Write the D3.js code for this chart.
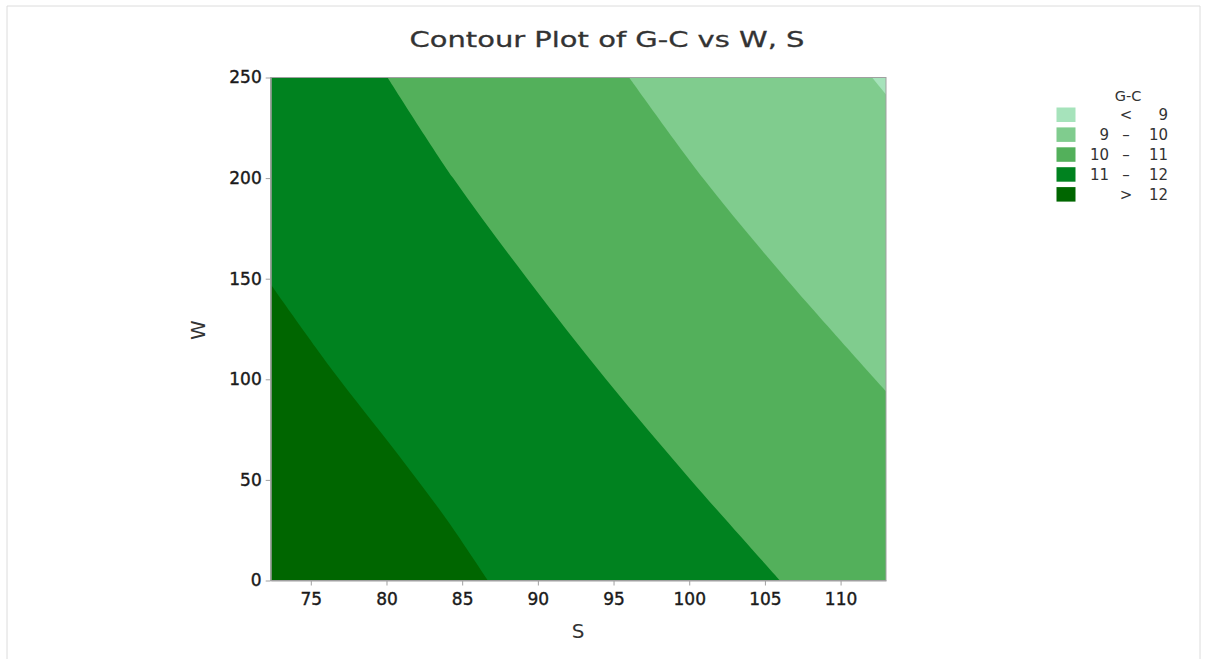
<!DOCTYPE html>
<html>
<head>
<meta charset="utf-8">
<script src="https://d3js.org/d3.v7.min.js"></script>
<style>
  body { margin: 0; background: #fff; }
  text { font-family: "DejaVu Sans", sans-serif; }
</style>
</head>
<body>
<svg width="1205" height="659"></svg>
<script>
// axis domains and ticks
const sDomain = [72.35, 113];
const wDomain = [0, 250];
const sTicks = [75, 80, 85, 90, 95, 100, 105, 110];
const wTicks = [0, 50, 100, 150, 200, 250];

// contour lines, as [S, W]
const c12 = [[72.35, 147.2], [76.4, 104.8], [80.7, 63.3], [84.0, 30.1], [86.7, 0]];
const c11 = [[80.07, 250], [84.4, 200], [89.3, 150], [94.5, 100], [100.1, 50], [106, 0]];
const c10 = [[96.03, 250], [100.9, 200], [106.4, 150], [113, 94]];
const c9 = [[112.08, 250], [113, 241.5]];

// legend
const legLow = ["", "9", "10", "11", ""];
const legSym = ["<", "\u2013", "\u2013", "\u2013", ">"];
const legHigh = ["9", "10", "11", "12", "12"];
const bandColors = ["#a6e3bb", "#80cc8e", "#53b05b", "#00821f", "#006600"];

const svg = d3.select("svg");

// light frame round the whole graph
svg.append("path")
  .attr("d", "M7,670V6H1200V670")
  .attr("fill", "none")
  .attr("stroke", "#dcdcdc");

const x = d3.scaleLinear().domain(sDomain).range([270.7, 886]);
const y = d3.scaleLinear().domain(wDomain).range([580.5, 77.5]);

const plot = svg.append("g");

// base band ( > 12 )
plot.append("rect")
  .attr("x", x(sDomain[0]))
  .attr("y", y(wDomain[1]))
  .attr("width", x(sDomain[1]) - x(sDomain[0]))
  .attr("height", y(wDomain[0]) - y(wDomain[1]))
  .attr("fill", bandColors[4]);

const line = d3.line()
  .x(d => x(d[0]))
  .y(d => y(d[1]))
  .curve(d3.curveCatmullRom);

// each band lies to the upper right of its contour
const bands = [
  { pts: c12, close: [[sDomain[1], wDomain[0]], [sDomain[1], wDomain[1]], [sDomain[0], wDomain[1]]], color: bandColors[3] },
  { pts: c11, close: [[sDomain[1], wDomain[0]], [sDomain[1], wDomain[1]]], color: bandColors[2] },
  { pts: c10, close: [[sDomain[1], wDomain[1]]], color: bandColors[1] },
  { pts: c9, close: [[sDomain[1], wDomain[1]]], color: bandColors[0] }
];

plot.selectAll("path.band")
  .data(bands)
  .enter()
  .append("path")
  .attr("class", "band")
  .attr("d", b => line(b.pts) + b.close.map(c => "L" + x(c[0]) + "," + y(c[1])).join("") + "Z")
  .attr("fill", b => b.color);

// plot frame
svg.append("rect")
  .attr("x", x(sDomain[0]))
  .attr("y", y(wDomain[1]))
  .attr("width", x(sDomain[1]) - x(sDomain[0]))
  .attr("height", y(wDomain[0]) - y(wDomain[1]))
  .attr("fill", "none")
  .attr("stroke", "#a0a0a0");

// axes
const xAxis = svg.append("g")
  .attr("transform", "translate(0," + y(wDomain[0]) + ")")
  .call(d3.axisBottom(x).tickValues(sTicks).tickSize(5).tickSizeOuter(0).tickPadding(7));

const yAxis = svg.append("g")
  .attr("transform", "translate(" + x(sDomain[0]) + ",0)")
  .call(d3.axisLeft(y).tickValues(wTicks).tickSize(5).tickSizeOuter(0).tickPadding(4));

[xAxis, yAxis].forEach(a => {
  a.selectAll("path, line").attr("stroke", "#a0a0a0");
  a.selectAll("text")
    .style("font-family", "'DejaVu Sans', sans-serif")
    .style("font-size", "17px")
    .attr("fill", "#1a1a1a")
    .attr("stroke", "#1a1a1a")
    .attr("stroke-width", 0.4);
});

// title
svg.append("text")
  .attr("x", 607)
  .attr("y", 47)
  .attr("text-anchor", "middle")
  .attr("textLength", 395)
  .attr("lengthAdjust", "spacingAndGlyphs")
  .style("font-size", "22px")
  .attr("fill", "#333")
  .attr("stroke", "#333")
  .attr("stroke-width", 0.3)
  .text("Contour Plot of G-C vs W, S");

// axis titles
svg.append("text")
  .attr("x", 578)
  .attr("y", 638)
  .attr("text-anchor", "middle")
  .style("font-size", "20px")
  .attr("fill", "#333")
  .text("S");

svg.append("text")
  .attr("transform", "translate(205,330) rotate(-90)")
  .attr("text-anchor", "middle")
  .style("font-size", "20px")
  .attr("fill", "#333")
  .text("W");

// legend
const leg = svg.append("g");

leg.append("text")
  .attr("x", 1128)
  .attr("y", 101)
  .attr("text-anchor", "middle")
  .style("font-size", "14.5px")
  .attr("fill", "#333")
  .text("G-C");

const rows = leg.selectAll("g.row")
  .data(d3.range(bandColors.length))
  .enter()
  .append("g")
  .attr("class", "row")
  .attr("transform", i => "translate(0," + (107.5 + i * 19.9) + ")");

rows.append("rect")
  .attr("x", 1056.5)
  .attr("width", 19)
  .attr("height", 14.5)
  .attr("fill", i => bandColors[i]);

rows.append("text")
  .attr("x", 1109)
  .attr("y", 12.5)
  .attr("text-anchor", "end")
  .style("font-size", "15px")
  .attr("fill", "#333")
  .text(i => legLow[i]);

rows.append("text")
  .attr("x", 1126)
  .attr("y", 12.5)
  .attr("text-anchor", "middle")
  .style("font-size", "15px")
  .attr("fill", "#333")
  .text(i => legSym[i]);

rows.append("text")
  .attr("x", 1168)
  .attr("y", 12.5)
  .attr("text-anchor", "end")
  .style("font-size", "15px")
  .attr("fill", "#333")
  .text(i => legHigh[i]);
</script>
</body>
</html>
